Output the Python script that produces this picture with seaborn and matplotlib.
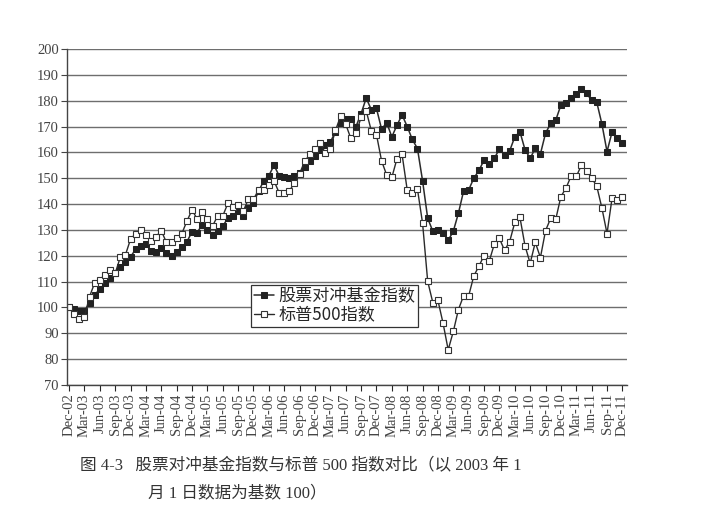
import numpy as np
import pandas as pd
import matplotlib
matplotlib.use("Agg")
import matplotlib.pyplot as plt
import seaborn as sns

# ---- data ----
hedge_index = [100, 99.5, 98.7, 98.7, 101.6, 105, 107, 109.3, 111.5, 113.2, 115.5, 117.7,
               119.6, 122.5, 123.8, 124.5, 121.8, 121.6, 122.9, 120.9, 120, 121.6, 123.3, 125.4,
               129.3, 129, 132, 130, 128, 129.5, 131.5, 134.5, 135.5, 137.5, 135.5, 138.5,
               140.5, 145, 149, 151, 155, 151, 150.5, 150, 151, 152, 154.5, 156.5,
               158.5, 161, 163, 164, 168, 171.5, 173, 173, 170, 175, 181, 176.5,
               177, 169, 171.5, 166, 170.5, 174.5, 170, 165, 161.5, 149, 134.5, 129.5,
               130, 129, 126, 129.5, 136.5, 145, 145.5, 150, 153, 157, 155.5, 157.7,
               161.3, 159, 160.6, 166, 168, 161, 157.7, 161.6, 159.4, 167.4, 171.2, 172.5,
               178.3, 179.2, 181, 182.4, 184.4, 182.8, 180.2, 179.4, 171, 160.3, 168, 165.4,
               163.5]
sp500_index = [100, 97.3, 95.6, 96.4, 104.2, 109.5, 110.8, 112.6, 114.6, 113.2, 119.4, 120.3,
               126.4, 128.6, 130.1, 128, 125.9, 127.4, 129.7, 125.2, 125.5, 126.7, 128.5, 133.4,
               137.7, 134.3, 136.8, 134.2, 131.5, 135.4, 135.4, 140.3, 138.7, 139.7, 137.2, 142,
               141.9, 145.5, 145.6, 147.2, 149, 144.4, 144.4, 145.1, 148.2, 151.8, 156.6, 159.2,
               161.2, 163.5, 159.9, 161.5, 168.5, 174, 170.9, 165.4, 167.5, 173.5, 176.1, 168.3,
               166.9, 156.7, 151.2, 150.3, 157.5, 159.2, 145.5, 144.1, 145.8, 132.6, 110.1, 101.9,
               102.7, 93.9, 83.6, 90.7, 99.2, 104.5, 104.5, 112.2, 116, 120.1, 117.8, 124.5,
               126.7, 122.1, 125.5, 132.9, 134.9, 123.8, 117.1, 125.2, 119.3, 129.7, 134.5, 134.2,
               142.9, 146.2, 150.9, 150.7, 155, 152.9, 150.1, 146.9, 138.5, 128.6, 142.5, 141.7,
               142.9]
tick_labels = ["Dec-02", "Mar-03", "Jun-03", "Sep-03", "Dec-03", "Mar-04", "Jun-04", "Sep-04",
               "Dec-04", "Mar-05", "Jun-05", "Sep-05", "Dec-05", "Mar-06", "Jun-06", "Sep-06",
               "Dec-06", "Mar-07", "Jun-07", "Sep-07", "Dec-07", "Mar-08", "Jun-08", "Sep-08",
               "Dec-08", "Mar-09", "Jun-09", "Sep-09", "Dec-09", "Mar-10", "Jun-10", "Sep-10",
               "Dec-10", "Mar-11", "Jun-11", "Sep-11", "Dec-11"]
series_names = ["股票对冲基金指数", "标普500指数"]
caption_line1 = "图 4-3   股票对冲基金指数与标普 500 指数对比（以 2003 年 1"
caption_line2 = "月 1 日数据为基数 100）"

month_idx = np.arange(len(hedge_index))
df = pd.DataFrame({"month": np.concatenate([month_idx, month_idx]),
                   "value": hedge_index + sp500_index,
                   "series": [series_names[0]] * len(hedge_index) + [series_names[1]] * len(sp500_index)})

sns.set_theme(style="white")
plt.rcParams['font.family'] = ['Liberation Serif', 'Noto Sans CJK SC', 'DejaVu Sans']

fig = plt.figure(figsize=(7.04, 5.19), dpi=100)
ax = fig.add_axes([67/704, 1-385/519, 560/704, 336/519])

line_col = "#2a2a2a"
sns.lineplot(data=df[df.series == series_names[0]], x="month", y="value", ax=ax,
             color=line_col, linewidth=1.1, marker="s", markersize=4.0,
             markerfacecolor="#222222", markeredgecolor="#222222", label=series_names[0])
sns.lineplot(data=df[df.series == series_names[1]], x="month", y="value", ax=ax,
             color=line_col, linewidth=1.0, marker="s", markersize=4.6,
             markerfacecolor="white", markeredgecolor="#333333", markeredgewidth=0.8,
             label=series_names[1])

ax.set_xlim(-0.4, 108.9)
ax.set_ylim(70, 200)
ax.set_yticks(np.arange(70, 201, 10))
ax.set_xticks(np.arange(0, len(hedge_index), 3))
ax.set_xticklabels(tick_labels, rotation=90, fontsize=10.5, color="#444444",
                   family=['Liberation Serif'])
ax.tick_params(axis='y', labelsize=10.5, colors="#444444", length=4, width=0.8, direction='out', left=True, pad=2)
ax.tick_params(axis='x', length=4, width=0.8, direction='out', bottom=True, pad=2)
for lab in ax.get_yticklabels():
    lab.set_family(['Liberation Serif'])
ax.set_xlabel("")
ax.set_ylabel("")
ax.yaxis.grid(True, color="#6e6e6e", linewidth=1.0)
ax.xaxis.grid(False)
for s in ["top", "right"]:
    ax.spines[s].set_visible(False)
for s in ["left", "bottom"]:
    ax.spines[s].set_color("#444444")
    ax.spines[s].set_linewidth(1.0)

leg = ax.legend(loc="upper left", bbox_to_anchor=(0.329, 0.298), frameon=True, fancybox=False,
                prop={'family': ['Noto Sans CJK SC'], 'size': 12.3}, handlelength=1.2,
                borderpad=0.15, labelspacing=0.05, handletextpad=0.25, borderaxespad=0)
leg.get_frame().set_edgecolor("#333333")
leg.get_frame().set_linewidth(0.9)
leg.get_frame().set_alpha(1)

fig.text(80/704, 1-466/519, caption_line1, fontsize=12,
         family=['Liberation Serif', 'Noto Sans CJK SC'],
         color="#333333", va="center", ha="left")
fig.text(148/704, 1-493/519, caption_line2, fontsize=12,
         family=['Liberation Serif', 'Noto Sans CJK SC'],
         color="#333333", va="center", ha="left")

fig.savefig("out.png", dpi=100, facecolor="white")
